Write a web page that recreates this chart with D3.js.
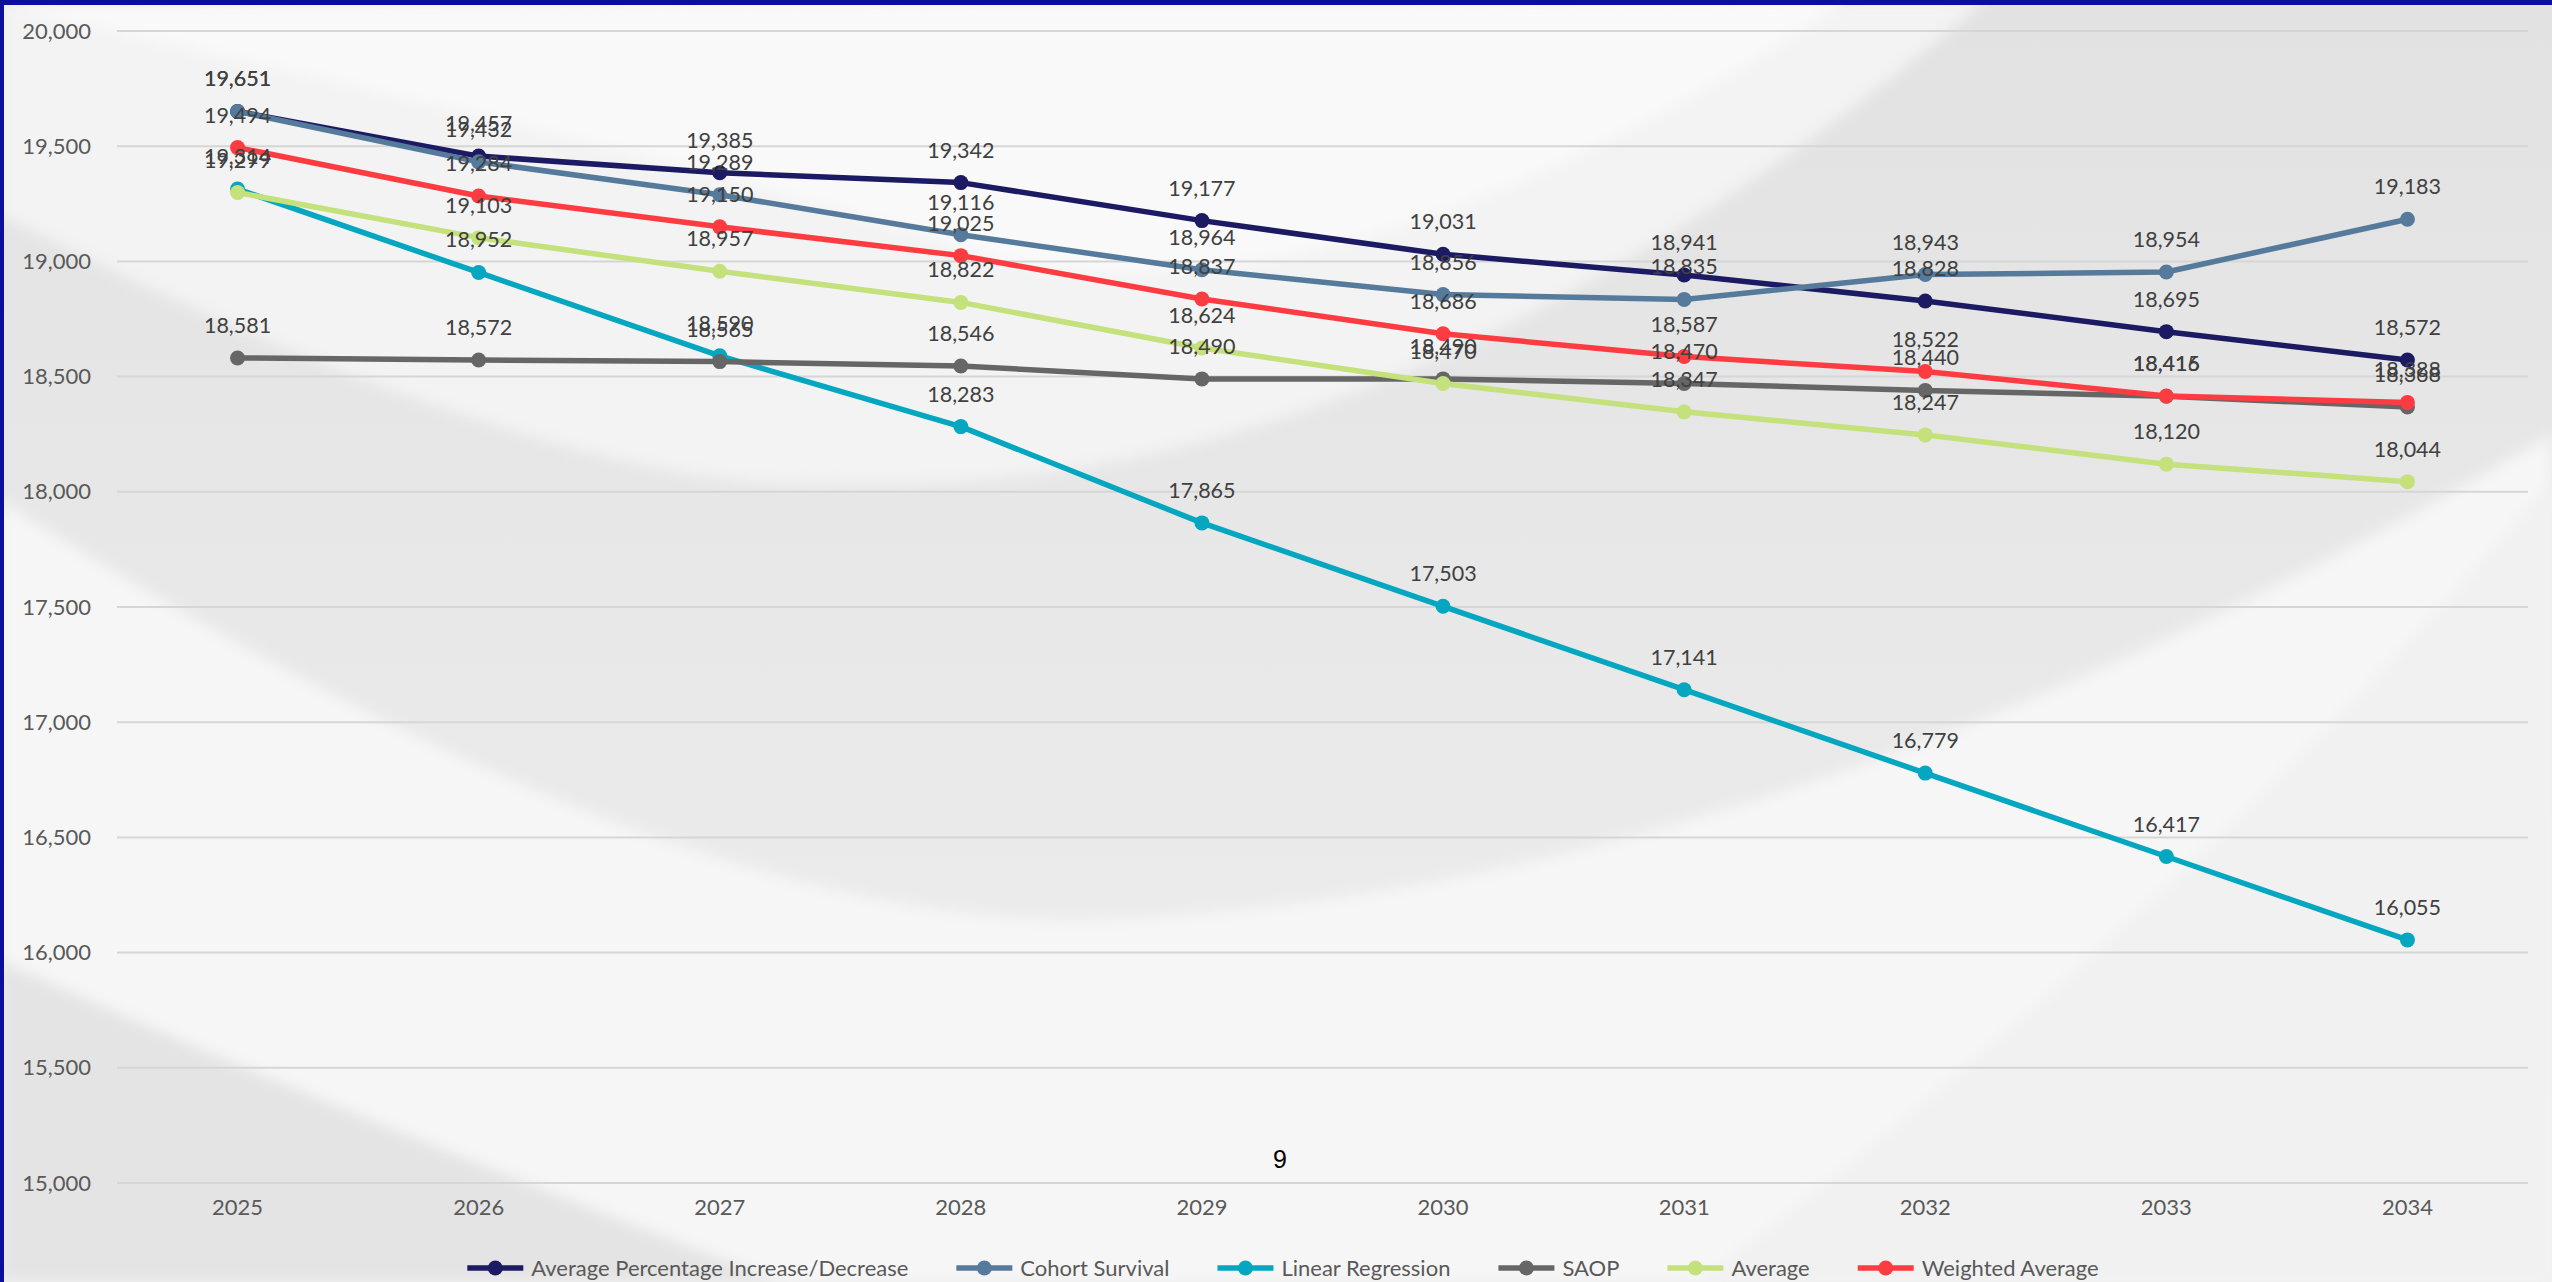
<!DOCTYPE html>
<html>
<head>
<meta charset="utf-8">
<script src="https://cdn.jsdelivr.net/npm/d3@7"></script>
<style>
  html, body { margin: 0; padding: 0; background: #e6e6e6; }
  svg { display: block; }
</style>
</head>
<body>
<svg id="chart"></svg>
<script>
const years = ['2025', '2026', '2027', '2028', '2029', '2030', '2031', '2032', '2033', '2034']
const seriesNames = ['Average Percentage Increase/Decrease', 'Cohort Survival', 'Linear Regression', 'SAOP', 'Average', 'Weighted Average']
const avgPct = [19651, 19457, 19385, 19342, 19177, 19031, 18941, 18828, 18695, 18572]
const cohort = [19651, 19432, 19289, 19116, 18964, 18856, 18835, 18943, 18954, 19183]
const linReg = [19314, 18952, 18590, 18283, 17865, 17503, 17141, 16779, 16417, 16055]
const saop = [18581, 18572, 18565, 18546, 18490, 18490, 18470, 18440, 18415, 18368]
const average = [19299, 19103, 18957, 18822, 18624, 18470, 18347, 18247, 18120, 18044]
const weighted = [19494, 19284, 19150, 19025, 18837, 18686, 18587, 18522, 18416, 18388]
const colors = ['#1b1a62', '#557a9b', '#04a7bf', '#666666', '#c4e17c', '#fd3c41']
const yTicks = [15000, 15500, 16000, 16500, 17000, 17500, 18000, 18500, 19000, 19500, 20000]

const width = 2552
const height = 1282
const values = [avgPct, cohort, linReg, saop, average, weighted]
const series = seriesNames.map((name, i) => ({ name, color: colors[i], points: values[i].map((v, j) => ({ year: years[j], value: v })) }))

const svg = d3.select('#chart').attr('width', width).attr('height', height)

// slide background: grey with soft white swooshes
const defs = svg.append('defs')
defs.append('filter').attr('id', 'soft').attr('x', '-10%').attr('y', '-10%').attr('width', '120%').attr('height', '120%')
    .append('feGaussianBlur').attr('stdDeviation', 7)
const bandGrad = defs.append('linearGradient').attr('id', 'band').attr('x1', 0).attr('y1', 0).attr('x2', 0).attr('y2', 1)
bandGrad.append('stop').attr('offset', '0%').attr('stop-color', '#e2e2e2')
bandGrad.append('stop').attr('offset', '70%').attr('stop-color', '#ebebeb')
bandGrad.append('stop').attr('offset', '100%').attr('stop-color', '#eeeeee')

const bg = svg.append('g').attr('class', 'background')
bg.append('rect').attr('width', width).attr('height', height).attr('fill', 'url(#band)')
// upper white bowl
bg.append('path')
    .attr('d', 'M 0,215 Q 560,500 846,484 Q 1400,500 1986,0 L 0,0 Z')
    .attr('fill', '#f3f3f3').attr('filter', 'url(#soft)')
bg.append('path')
    .attr('d', 'M 0,7 Q 700,157 1000,260 Q 1350,330 1850,0 Z')
    .attr('fill', '#f9f9f9').attr('filter', 'url(#soft)')
// lower white bowl
bg.append('path')
    .attr('d', 'M 0,500 Q 700,950 1139,918 Q 1800,880 2552,434 L 2552,1282 L 0,1282 Z')
    .attr('fill', '#f6f6f6').attr('filter', 'url(#soft)')
bg.append('path')
    .attr('d', 'M 1700,1282 Q 2200,900 2552,480 L 2552,1282 Z')
    .attr('fill', '#f1f1f1').attr('filter', 'url(#soft)')
// bottom-left grey wedge
bg.append('path')
    .attr('d', 'M 0,961 Q 330,1110 781,1282 L 0,1282 Z')
    .attr('fill', '#e4e4e4').attr('filter', 'url(#soft)')

// frame
bg.append('rect').attr('x', 0).attr('y', 0).attr('width', width).attr('height', 5).attr('fill', '#0b0f9b')
bg.append('rect').attr('x', 0).attr('y', 0).attr('width', 4).attr('height', height).attr('fill', '#0b0f9b')

const x = d3.scaleBand().domain(years).range([117, 2528])
const cx = year => x(year) + x.bandwidth() / 2
const y = d3.scaleLinear().domain([15000, 20000]).range([1183, 31])

// gridlines
svg.append('g').attr('class', 'grid')
    .selectAll('line').data(yTicks).join('line')
    .attr('x1', 117).attr('x2', 2528)
    .attr('y1', d => y(d)).attr('y2', d => y(d))
    .attr('stroke', '#d6d6d6').attr('stroke-width', 2)

// y axis labels
const yAxis = svg.append('g').attr('transform', 'translate(91,0)')
    .call(d3.axisLeft(y).tickValues(yTicks).tickFormat(d3.format(',')).tickSize(0).tickPadding(0))
yAxis.select('.domain').remove()
yAxis.selectAll('text').attr('font-family', 'Lato, sans-serif').attr('font-size', 22).attr('fill', '#595959')

// x axis labels
const xAxis = svg.append('g').attr('transform', 'translate(0,1199)')
    .call(d3.axisBottom(x).tickSize(0).tickPadding(0))
xAxis.select('.domain').remove()
xAxis.selectAll('text').attr('font-family', 'Lato, sans-serif').attr('font-size', 22).attr('fill', '#595959')

// lines and markers, in series order so the later series sit on top
const line = d3.line().x(d => cx(d.year)).y(d => y(d.value))
const seriesGroups = svg.append('g').attr('class', 'series')
    .selectAll('g').data(series).join('g')

seriesGroups.append('path')
    .attr('d', s => line(s.points))
    .attr('fill', 'none')
    .attr('stroke', s => s.color)
    .attr('stroke-width', 5.5)
    .attr('stroke-linejoin', 'round')

seriesGroups.selectAll('circle').data(s => s.points.map(p => ({ ...p, color: s.color }))).join('circle')
    .attr('cx', d => cx(d.year))
    .attr('cy', d => y(d.value))
    .attr('r', 7.5)
    .attr('fill', d => d.color)

// data labels above each point
const labels = svg.append('g').attr('class', 'labels')
series.forEach(s => {
    labels.selectAll(null).data(s.points).join('text')
        .attr('x', d => cx(d.year))
        .attr('y', d => y(d.value) - 25)
        .attr('text-anchor', 'middle')
        .attr('font-family', 'Lato, sans-serif')
        .attr('font-size', 21.5)
        .attr('fill', '#404040')
        .text(d => d3.format(',')(d.value))
})

// page number
svg.append('text')
    .attr('x', 1280).attr('y', 1168)
    .attr('text-anchor', 'middle')
    .attr('font-family', 'Liberation Sans, Arial, sans-serif')
    .attr('font-size', 25)
    .attr('fill', '#000')
    .text('9')

// legend
const legend = svg.append('g').attr('class', 'legend')
const items = legend.selectAll('g').data(series).join('g')
items.append('line').attr('x1', 0).attr('x2', 56).attr('y1', 0).attr('y2', 0)
    .attr('stroke', s => s.color).attr('stroke-width', 5.5)
items.append('circle').attr('cx', 28).attr('cy', 0).attr('r', 7.5).attr('fill', s => s.color)
items.append('text').attr('x', 64).attr('y', 8)
    .attr('font-family', 'Lato, sans-serif').attr('font-size', 22).attr('fill', '#595959')
    .text(s => s.name)

let offset = 0
const positions = []
items.each(function () {
    const w = 64 + this.querySelector('text').getComputedTextLength()
    positions.push(offset)
    offset += w + 48
})
const legendWidth = offset - 48
const legendStart = 1283 - legendWidth / 2
items.attr('transform', (d, i) => `translate(${legendStart + positions[i]},1268)`)
</script>
</body>
</html>
